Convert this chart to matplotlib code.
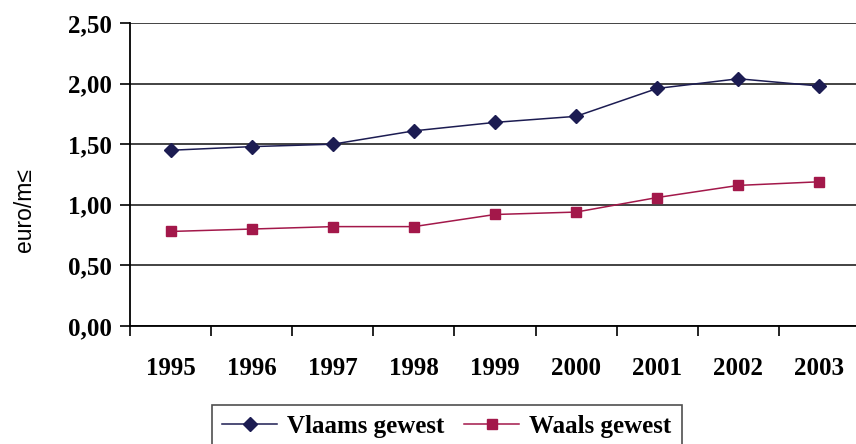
import matplotlib.pyplot as plt
from matplotlib.ticker import FixedLocator, FuncFormatter

plt.rcParams['font.family'] = ['Liberation Serif', 'DejaVu Serif']

# data
years = ['1995', '1996', '1997', '1998', '1999', '2000', '2001', '2002', '2003']
vlaams = [1.45, 1.48, 1.50, 1.61, 1.68, 1.73, 1.96, 2.04, 1.98]
waals = [0.78, 0.80, 0.82, 0.82, 0.92, 0.94, 1.06, 1.16, 1.19]

W, H = 856, 444
fig = plt.figure(figsize=(W / 100, H / 100), dpi=100)
# axes box in pixel coords: left 130, right 860, top 23, bottom 326
ax = fig.add_axes([130 / W, (H - 326) / H, 730 / W, (326 - 23) / H])

x = range(len(years))
ax.plot(x, vlaams, color='#1c1c52', lw=1.1, marker='D', ms=7,
        label='Vlaams gewest')
ax.plot(x, waals, color='#a3184a', lw=1.1, marker='s', ms=7.5,
        label='Waals gewest')

ax.set_xlim(-0.5, len(years) - 0.5)
ax.set_ylim(0, 2.5)
ax.set_yticks([0, 0.5, 1.0, 1.5, 2.0, 2.5])
ax.yaxis.set_major_formatter(FuncFormatter(lambda v, p: f'{v:.2f}'.replace('.', ',')))
ax.grid(axis='y', color='#222222', lw=1.2)
ax.set_axisbelow(True)

# year labels centred in bands, ticks at band edges
ax.xaxis.set_major_locator(FixedLocator([i - 0.5 for i in range(len(years) + 1)]))
ax.xaxis.set_major_formatter(FuncFormatter(lambda v, p: ''))
ax.xaxis.set_minor_locator(FixedLocator(list(x)))
ax.set_xticklabels(years, minor=True)
ax.tick_params(axis='x', which='minor', length=0, pad=22, labelsize=18)
ax.tick_params(axis='x', which='major', length=7, width=1.2, direction='out')
ax.tick_params(axis='y', length=7, width=1.2, labelsize=18, pad=6)
for lab in ax.get_xticklabels(minor=True) + ax.get_yticklabels():
    lab.set_fontweight('bold')

for s in ['top', 'right']:
    ax.spines[s].set_visible(False)
ax.spines['left'].set_linewidth(1.3)
ax.spines['bottom'].set_linewidth(1.3)

fig.text(25 / W, 1 - 210 / H, 'euro/m≤', rotation=90, ha='center', va='center',
         fontsize=16.5, family=['Liberation Sans', 'DejaVu Sans'])

leg = fig.legend(loc='upper left', bbox_to_anchor=(212 / W, (H - 405) / H),
                 borderaxespad=0, ncol=2, frameon=True, fancybox=False,
                 edgecolor='#222222', prop={'weight': 'bold', 'size': 18},
                 handlelength=2.2, columnspacing=0.8, handletextpad=0.4,
                 borderpad=0.4)
leg.get_frame().set_linewidth(1.2)

fig.savefig('out.png', dpi=100)
